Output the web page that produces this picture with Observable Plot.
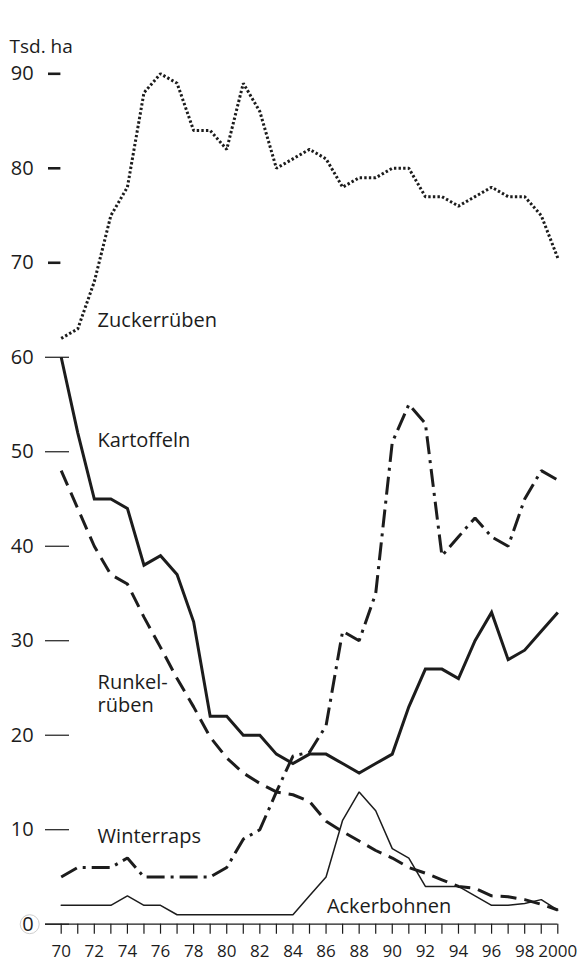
<!DOCTYPE html>
<html><head><meta charset="utf-8">
<script src="https://cdn.jsdelivr.net/npm/d3@7"></script>
<script src="https://cdn.jsdelivr.net/npm/@observablehq/plot@0.6"></script>
<style>
html,body{margin:0;padding:0;background:#fff;}
svg{display:block;font-family:"Open Sans",sans-serif;}
</style>
</head><body><div id="chart"></div>
<script>
const years = [1970,1971,1972,1973,1974,1975,1976,1977,1978,1979,1980,1981,1982,1983,1984,1985,1986,1987,1988,1989,1990,1991,1992,1993,1994,1995,1996,1997,1998,1999,2000];
const zuckerrueben = [62,63,68,75,78,88,90,89,84,84,82,89,86,80,81,82,81,78,79,79,80,80,77,77,76,77,78,77,77,75,70.5];
const kartoffeln   = [60,52,45,45,44,38,39,37,32,22,22,20,20,18,17,18,18,17,16,17,18,23,27,27,26,30,33,28,29,31,33];
const runkelrueben = [48,44,40,37,36,32.5,29.3,26,23,19.8,17.6,16,14.9,14,13.7,13,10.9,9.8,8.8,7.8,7,6,5.4,4.7,4,3.8,3,2.9,2.6,2.1,1.5];
const winterraps   = [5,6,6,6,7,5,5,5,5,5,6,9,10,14,17.8,18.2,21,31,30,35,51,55,53,39,41,43,41,40,45,48,47];
const ackerbohnen  = [2,2,2,2,3,2,2,1,1,1,1,1,1,1,1,3,5,11,14,12,8,7,4,4,4,3,2,2,2.2,2.6,1.5];

const yTicksThin = [0,10,20,30,40,50,60];
const yTicksBold = [70,80,90];
const xLabelYears = [1970,1972,1974,1976,1978,1980,1982,1984,1986,1988,1990,1992,1994,1996,1998,2000];

const seriesLabels = [
  {text:"Zuckerrüben", year:1972.2, value:63.9},
  {text:"Kartoffeln", year:1972.2, value:51.2},
  {text:"Runkel-", year:1972.2, value:25.6},
  {text:"rüben", year:1972.2, value:23.15},
  {text:"Winterraps", year:1972.2, value:9.3},
  {text:"Ackerbohnen", year:1986.05, value:1.9}
];

const toRows = vals => years.map((yr, i) => ({year: yr, value: vals[i]}));
const ink = "#1c1c1c";
const W = 579, H = 962, ML = 60.7, MR = 21.7, MT = 73.3, MB = 38.3;
const frameW = W - ML - MR, frameH = H - MT - MB;

const chart = Plot.plot({
  width: W,
  height: H,
  marginLeft: ML,
  marginRight: MR,
  marginTop: MT,
  marginBottom: MB,
  style: {fontFamily: "'Open Sans', sans-serif", color: ink, background: "#fff"},
  x: {domain: [1970, 2000], axis: null},
  y: {domain: [0, 90], axis: null},
  marks: [
    // y axis ticks (thin 0–60, bold 70–90)
    Plot.ruleY(yTicksThin, {y: d => d, insetLeft: -15.7, insetRight: frameW - 12 + 3.7 , strokeWidth: 1.2, stroke: ink}),
    Plot.ruleY(yTicksBold, {y: d => d, insetLeft: -12.7, insetRight: frameW + 0.3, strokeWidth: 2.6, stroke: ink}),
    Plot.text([...yTicksThin, ...yTicksBold], {y: d => d, frameAnchor: "left", lineAnchor: "middle", text: d => String(d), textAnchor: "end", dx: -27.5, fontSize: 20, fill: ink}),
    Plot.dot([0], {frameAnchor: "bottom-left", dx: -31.5, r: 9.5, stroke: "#cfcfcf", strokeWidth: 1, fill: "none"}),
    Plot.text(["Tsd. ha"], {frameAnchor: "top-left", lineAnchor: "middle", dx: -51.7, dy: -26.5, textAnchor: "start", fontSize: 19, fill: ink}),
    // x axis
    Plot.ruleY([0], {insetLeft: -15.7, strokeWidth: 1.2, stroke: ink}),
    Plot.ruleX(years, {x: d => d, insetTop: frameH, insetBottom: -10, strokeWidth: 1.2, stroke: ink}),
    Plot.text(xLabelYears, {x: d => d, frameAnchor: "bottom", lineAnchor: "top", dy: 21, fontSize: 17, fill: ink,
      text: d => d === 2000 ? "2000" : String(d).slice(2)}),
    // series
    Plot.lineY(toRows(zuckerrueben), {x: "year", y: "value", stroke: ink, strokeWidth: 3, strokeDasharray: "2.4,2.2", strokeLinecap: "butt", strokeLinejoin: "miter"}),
    Plot.lineY(toRows(kartoffeln), {x: "year", y: "value", stroke: ink, strokeWidth: 3, strokeLinecap: "butt", strokeLinejoin: "miter", strokeMiterlimit: 4}),
    Plot.lineY(toRows(runkelrueben), {x: "year", y: "value", stroke: ink, strokeWidth: 3, strokeDasharray: "16,8", strokeLinecap: "butt", strokeLinejoin: "miter"}),
    Plot.lineY(toRows(winterraps), {x: "year", y: "value", stroke: ink, strokeWidth: 3, strokeDasharray: "18,6,3,6", strokeLinecap: "butt", strokeLinejoin: "miter"}),
    Plot.lineY(toRows(ackerbohnen), {x: "year", y: "value", stroke: ink, strokeWidth: 1.5, strokeLinejoin: "miter"}),
    // labels
    Plot.text(seriesLabels, {x: "year", y: "value", text: "text", textAnchor: "start", fontSize: 20, fill: ink})
  ]
});
document.getElementById("chart").appendChild(chart);
</script>
</body></html>
